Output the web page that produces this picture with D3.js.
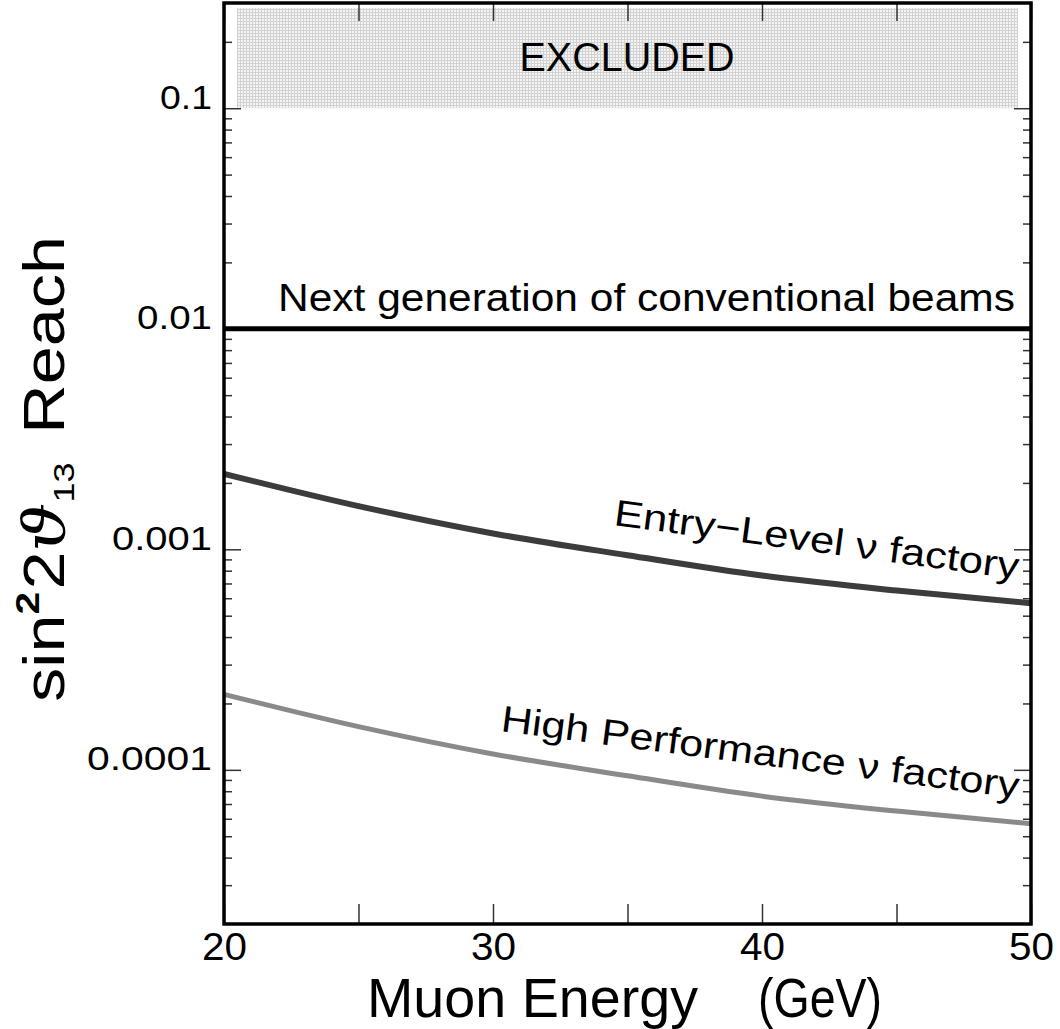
<!DOCTYPE html>
<html>
<head>
<meta charset="utf-8">
<script src="https://cdn.jsdelivr.net/npm/d3@7"></script>
<style>
  html, body { margin: 0; padding: 0; background: #fff; }
  svg { display: block; }
  text { font-family: "Liberation Sans", "DejaVu Sans", sans-serif; fill: #000; }
</style>
</head>
<body>
<svg id="chart" width="1060" height="1029"></svg>
<script>
// ---- data ----
const energies = [20, 25, 30, 35, 40, 45, 50];
const entryLevel = [2.2e-3, 1.57e-3, 1.18e-3, 9.4e-4, 7.6e-4, 6.5e-4, 5.7e-4];
const highPerformance = [2.2e-4, 1.57e-4, 1.18e-4, 9.4e-5, 7.6e-5, 6.5e-5, 5.7e-5];
const conventionalEnergies = [20, 50];
const conventionalReach = [0.01, 0.01];
const excludedBounds = [0.1, 0.3];
const xMajorTicks = [20, 30, 40, 50];
const xMinorTicks = [25, 35, 45];
const yMajorTicks = [1e-4, 1e-3, 1e-2, 1e-1];
const yTickLabels = ["0.0001", "0.001", "0.01", "0.1"];
const yMinorTicks = [3e-5,4e-5,5e-5,6e-5,7e-5,8e-5,9e-5,
  2e-4,3e-4,4e-4,5e-4,6e-4,7e-4,8e-4,9e-4,
  2e-3,3e-3,4e-3,5e-3,6e-3,7e-3,8e-3,9e-3,
  2e-2,3e-2,4e-2,5e-2,6e-2,7e-2,8e-2,9e-2, 2e-1];

// ---- layout ----
const L = 224, R = 1031, T = 3, B = 924;
const svg = d3.select("#chart");
const x = d3.scaleLinear().domain([20, 50]).range([L, R]);
const y = d3.scaleLog().domain([2e-5, 0.3]).range([B, T]);

// pattern for excluded region
const defs = svg.append("defs");
const pat = defs.append("pattern").attr("id", "excl").attr("patternUnits", "userSpaceOnUse")
  .attr("width", 3).attr("height", 3);
pat.append("rect").attr("width", 3).attr("height", 3).attr("fill", "#f4f4f4");
pat.append("rect").attr("width", 3).attr("height", 1).attr("fill", "#d2d2d2");
pat.append("rect").attr("width", 1).attr("height", 3).attr("fill", "#d2d2d2");

svg.append("rect")
  .attr("x", L + 13).attr("width", R - 13 - (L + 13))
  .attr("y", y(excludedBounds[1]) + 5).attr("height", y(excludedBounds[0]) - y(excludedBounds[1]) - 5)
  .attr("fill", "url(#excl)");

svg.append("text").attr("x", 627).attr("y", 71).attr("text-anchor", "middle")
  .attr("font-size", 41).attr("textLength", 215).attr("lengthAdjust", "spacingAndGlyphs")
  .text("EXCLUDED");

// ---- ticks ----
function styleAxis(g) {
  g.select(".domain").remove();
  g.selectAll(".tick line").attr("stroke", "#333").attr("stroke-width", 1.5);
}
const noLabel = () => "";
svg.append("g").attr("transform", `translate(${L},0)`)
  .call(d3.axisLeft(y).tickValues(yMinorTicks).tickSize(-8).tickFormat(noLabel)).call(styleAxis);
svg.append("g").attr("transform", `translate(${R},0)`)
  .call(d3.axisRight(y).tickValues(yMinorTicks).tickSize(-8).tickFormat(noLabel)).call(styleAxis);
svg.append("g").attr("transform", `translate(${R},0)`)
  .call(d3.axisRight(y).tickValues(yMajorTicks).tickSize(-17).tickFormat(noLabel)).call(styleAxis);
const yl = svg.append("g").attr("transform", `translate(${L},0)`)
  .call(d3.axisLeft(y).tickValues(yMajorTicks).tickSize(-17).tickPadding(12)
    .tickFormat((d, i) => yTickLabels[i]));
yl.call(styleAxis);
const yLabelWidths = [125, 100, 75, 52];
yl.selectAll(".tick text").attr("dy", "0").attr("font-size", 34)
  .attr("font-family", "Liberation Sans, sans-serif").attr("fill", "#000")
  .each(function(d, i) {
    d3.select(this).attr("textLength", yLabelWidths[i]).attr("lengthAdjust", "spacingAndGlyphs");
  });

svg.append("g").attr("transform", `translate(0,${T})`)
  .call(d3.axisTop(x).tickValues(xMajorTicks.concat(xMinorTicks)).tickSize(-18).tickFormat(noLabel)).call(styleAxis);
svg.append("g").attr("transform", `translate(0,${B})`)
  .call(d3.axisBottom(x).tickValues(xMinorTicks).tickSize(-20).tickFormat(noLabel)).call(styleAxis);
const xl = svg.append("g").attr("transform", `translate(0,${B})`)
  .call(d3.axisBottom(x).tickValues(xMajorTicks).tickSize(-20).tickPadding(8).tickFormat(d3.format("d")));
xl.call(styleAxis);
xl.selectAll(".tick text").attr("font-size", 39).attr("font-family", "Liberation Sans, sans-serif")
  .attr("fill", "#000").attr("textLength", 45).attr("lengthAdjust", "spacingAndGlyphs");

// ---- lines ----
const line = d3.line().x(d => x(d[0])).y(d => y(d[1])).curve(d3.curveMonotoneX);
svg.append("path").datum(conventionalEnergies.map((e, i) => [e, conventionalReach[i]]))
  .attr("d", line).attr("fill", "none").attr("stroke", "#000").attr("stroke-width", 5);
svg.append("path").datum(energies.map((e, i) => [e, entryLevel[i]]))
  .attr("d", line).attr("fill", "none").attr("stroke", "#3c3c3c").attr("stroke-width", 6);
svg.append("path").datum(energies.map((e, i) => [e, highPerformance[i]]))
  .attr("d", line).attr("fill", "none").attr("stroke", "#8a8a8a").attr("stroke-width", 5);

// frame
svg.append("rect").attr("x", L).attr("y", T).attr("width", R - L).attr("height", B - T)
  .attr("fill", "none").attr("stroke", "#000").attr("stroke-width", 3.5);

// ---- labels ----
svg.append("text").attr("x", 278).attr("y", 311).attr("font-size", 38)
  .attr("textLength", 737).attr("lengthAdjust", "spacingAndGlyphs")
  .text("Next generation of conventional beams");

svg.append("text").attr("transform", "translate(613,525) rotate(7.6)").attr("font-size", 37)
  .attr("textLength", 408).attr("lengthAdjust", "spacingAndGlyphs")
  .text("Entry\u2212Level \u03bd factory");
svg.append("text").attr("transform", "translate(500,731) rotate(7.4)").attr("font-size", 37)
  .attr("textLength", 522).attr("lengthAdjust", "spacingAndGlyphs")
  .text("High Performance \u03bd factory");

svg.append("text").attr("x", 367).attr("y", 1017).attr("font-size", 55)
  .attr("textLength", 331).attr("lengthAdjust", "spacingAndGlyphs").text("Muon Energy");
svg.append("text").attr("x", 758).attr("y", 1017).attr("font-size", 55)
  .attr("textLength", 124).attr("lengthAdjust", "spacingAndGlyphs").text("(GeV)");

const yt = svg.append("text").attr("transform", "translate(64,702) rotate(-90) scale(1.2,1)").attr("font-size", 57);
yt.append("tspan").text("sin");
yt.append("tspan").attr("font-size", 34).attr("font-weight", "bold").attr("dy", -25).text("2");
yt.append("tspan").attr("dy", 25).attr("dx", 2).text("2");
yt.append("tspan").attr("font-family", "DejaVu Serif, serif").attr("font-style", "italic").text("\u03d1");
yt.append("tspan").attr("font-size", 30).attr("dy", 10).text("13");
yt.append("tspan").attr("dy", -10).attr("dx", 24).text("Reach");
</script>
</body>
</html>
